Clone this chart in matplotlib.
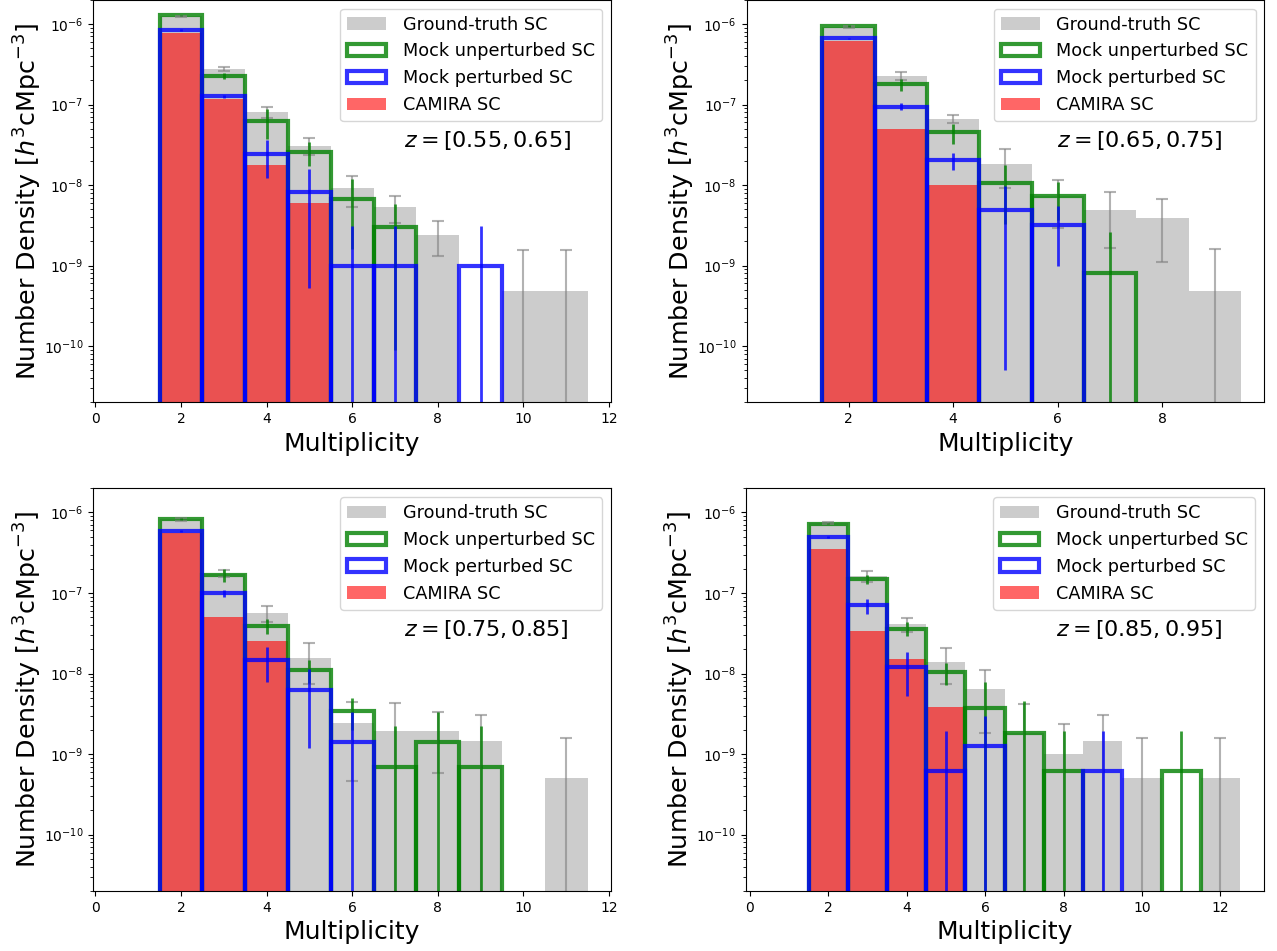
import numpy as np
import matplotlib
matplotlib.use("Agg")
import matplotlib.pyplot as plt
from matplotlib.patches import Patch

# multiplicity bins shared by all redshift slices (0 = empty bin)
MULT = [2, 3, 4, 5, 6, 7, 8, 9, 10, 11, 12]

Z_LABELS = ["$z=[0.55, 0.65]$", "$z=[0.65, 0.75]$", "$z=[0.75, 0.85]$", "$z=[0.85, 0.95]$"]

# z = [0.55, 0.65]
truth_1 = [1.24e-6, 2.78e-7, 8.05e-8, 3.08e-8, 9.2e-9, 5.37e-9, 2.43e-9, 0, 4.9e-10, 4.9e-10, 0]
truth_err_1 = [3e-8, 1.7e-8, 1.25e-8, 7.5e-9, 3.9e-9, 2.0e-9, 1.1e-9, 0, 1.09e-9, 1.09e-9, 0]
unpert_1 = [1.28e-6, 2.29e-7, 6.28e-8, 2.57e-8, 6.8e-9, 2.99e-9, 0, 0, 0, 0, 0]
unpert_err_1 = [2e-8, 2e-8, 2.6e-8, 8.5e-9, 5.2e-9, 2.9e-9, 0, 0, 0, 0, 0]
pert_1 = [8.43e-7, 1.26e-7, 2.43e-8, 8.13e-9, 1e-9, 1e-9, 0, 1e-9, 0, 0, 0]
pert_err_1 = [2.5e-8, 6e-9, 1.2e-8, 7.6e-9, 2.14e-9, 2.14e-9, 0, 2.14e-9, 0, 0, 0]
camira_1 = [7.8e-7, 1.17e-7, 1.79e-8, 6.0e-9, 0, 0, 0, 0, 0, 0, 0]

# z = [0.65, 0.75]
truth_2 = [9.2e-7, 2.26e-7, 6.64e-8, 1.84e-8, 7.3e-9, 4.94e-9, 3.9e-9, 4.9e-10, 0, 0, 0]
truth_err_2 = [2.5e-8, 2.5e-8, 8e-9, 9.3e-9, 4.35e-9, 3.3e-9, 2.8e-9, 1.1e-9, 0, 0, 0]
unpert_2 = [9.5e-7, 1.79e-7, 4.5e-8, 1.06e-8, 7.24e-9, 8e-10, 0, 0, 0, 0, 0]
unpert_err_2 = [2e-8, 3.1e-8, 1.3e-8, 7.3e-9, 3.6e-9, 1.8e-9, 0, 0, 0, 0, 0]
pert_2 = [6.64e-7, 9.44e-8, 2.02e-8, 4.85e-9, 3.22e-9, 0, 0, 0, 0, 0, 0]
pert_err_2 = [1.5e-8, 9e-9, 5e-9, 4.8e-9, 2.23e-9, 0, 0, 0, 0, 0, 0]
camira_2 = [6.2e-7, 4.99e-8, 9.9e-9, 0, 0, 0, 0, 0, 0, 0, 0]

# z = [0.75, 0.85]
truth_3 = [8.2e-7, 1.74e-7, 5.65e-8, 1.56e-8, 2.47e-9, 1.96e-9, 1.96e-9, 1.47e-9, 0, 5e-10, 0]
truth_err_3 = [3e-8, 1.7e-8, 1.3e-8, 8.2e-9, 2.0e-9, 2.3e-9, 1.38e-9, 1.55e-9, 0, 1.09e-9, 0]
unpert_3 = [8.3e-7, 1.66e-7, 3.9e-8, 1.12e-8, 3.47e-9, 6.9e-10, 1.41e-9, 6.9e-10, 0, 0, 0]
unpert_err_3 = [2e-8, 3e-8, 8e-9, 3.5e-9, 1.5e-9, 1.53e-9, 1.94e-9, 1.53e-9, 0, 0, 0]
pert_3 = [5.93e-7, 1.0e-7, 1.46e-8, 6.28e-9, 1.42e-9, 0, 0, 0, 0, 0, 0]
pert_err_3 = [1.5e-8, 1e-8, 6.8e-9, 5.1e-9, 1.9e-9, 0, 0, 0, 0, 0, 0]
camira_3 = [5.55e-7, 5.09e-8, 2.56e-8, 0, 0, 0, 0, 0, 0, 0, 0]

# z = [0.85, 0.95]
truth_4 = [7.4e-7, 1.64e-7, 4.13e-8, 1.4e-8, 6.52e-9, 1.84e-9, 9.9e-10, 1.47e-9, 5e-10, 0, 5e-10]
truth_err_4 = [3e-8, 2.5e-8, 8e-9, 6.5e-9, 4.7e-9, 2.4e-9, 1.4e-9, 1.55e-9, 1.09e-9, 0, 1.09e-9]
unpert_4 = [7.3e-7, 1.49e-7, 3.61e-8, 1.04e-8, 3.75e-9, 1.84e-9, 6.15e-10, 0, 0, 6.15e-10, 0]
unpert_err_4 = [2e-8, 1.8e-8, 7e-9, 3.2e-9, 4.1e-9, 2.7e-9, 1.35e-9, 0, 0, 1.35e-9, 0]
pert_4 = [4.94e-7, 7.03e-8, 1.2e-8, 6.15e-10, 1.26e-9, 0, 0, 6.15e-10, 0, 0, 0]
pert_err_4 = [1.5e-8, 1.5e-8, 6.8e-9, 1.35e-9, 1.7e-9, 0, 0, 1.35e-9, 0, 0, 0]
camira_4 = [3.55e-7, 3.41e-8, 1.53e-8, 3.83e-9, 0, 0, 0, 0, 0, 0, 0]

PANELS = [
    (truth_1, truth_err_1, unpert_1, unpert_err_1, pert_1, pert_err_1, camira_1),
    (truth_2, truth_err_2, unpert_2, unpert_err_2, pert_2, pert_err_2, camira_2),
    (truth_3, truth_err_3, unpert_3, unpert_err_3, pert_3, pert_err_3, camira_3),
    (truth_4, truth_err_4, unpert_4, unpert_err_4, pert_4, pert_err_4, camira_4),
]

# axes rectangles in figure fractions
RECTS = [
    [0.073, 0.5768, 0.4055, 0.4235],
    [0.5846, 0.5768, 0.4055, 0.4235],
    [0.073, 0.0631, 0.4055, 0.4235],
    [0.5840, 0.0631, 0.4055, 0.4235],
]


def nonzero(vals, errs=None):
    m = np.array(MULT)
    v = np.array(vals)
    keep = v > 0
    if errs is None:
        return m[keep], v[keep]
    return m[keep], v[keep], np.array(errs)[keep]


def plot_panel(ax, data, zlabel):
    truth, truth_err, unpert, unpert_err, pert, pert_err, camira = data
    ax.set_yscale("log")

    x, y, e = nonzero(truth, truth_err)
    ax.bar(x, y, width=1.0, color="gray", alpha=0.4)
    ax.errorbar(x, y, yerr=e, fmt="none", ecolor="gray", alpha=0.6,
                elinewidth=1.5, capsize=4, capthick=1.5)

    x, y = nonzero(camira)
    ax.bar(x, y, width=1.0, color="red", alpha=0.6)

    x, y, e = nonzero(unpert, unpert_err)
    ax.bar(x, y, width=1.0, fill=False, edgecolor="green", alpha=0.8, linewidth=3)
    ax.errorbar(x, y, yerr=e, fmt="none", ecolor="green", alpha=0.8, elinewidth=2)

    x, y, e = nonzero(pert, pert_err)
    ax.bar(x, y, width=1.0, fill=False, edgecolor="blue", alpha=0.8, linewidth=3)
    ax.errorbar(x, y, yerr=e, fmt="none", ecolor="blue", alpha=0.8, elinewidth=2)

    # x range: from the empty multiplicity-1 bin to the last filled bin
    last = max(max(nonzero(s)[0]) for s in (truth, unpert, pert, camira))
    lo, hi = 0.5, last + 0.5
    pad = 0.05 * (hi - lo)
    ax.set_xlim(lo - pad, hi + pad)
    ax.set_ylim(2e-11, 2e-6)

    handles = [
        Patch(facecolor="gray", alpha=0.4, label="Ground-truth SC"),
        Patch(facecolor="white", edgecolor="green", linewidth=3, alpha=0.8,
              label="Mock unperturbed SC"),
        Patch(facecolor="white", edgecolor="blue", linewidth=3, alpha=0.8,
              label="Mock perturbed SC"),
        Patch(facecolor="red", alpha=0.6, label="CAMIRA SC"),
    ]
    ax.legend(handles=handles, loc="upper right", fontsize=12.7,
              handlelength=2.2, handletextpad=0.95)
    ax.text(0.6, 0.65, zlabel, transform=ax.transAxes, fontsize=16,
            ha="left", va="center")
    ax.set_xlabel("Multiplicity", fontsize=18)
    ax.set_ylabel(r"Number Density [$h^3$cMpc$^{-3}$]", fontsize=18.3, labelpad=0)


fig = plt.figure(figsize=(12.77, 9.51), dpi=100)
for rect, data, zlabel in zip(RECTS, PANELS, Z_LABELS):
    ax = fig.add_axes(rect)
    plot_panel(ax, data, zlabel)

fig.savefig("out.png", dpi=100)
